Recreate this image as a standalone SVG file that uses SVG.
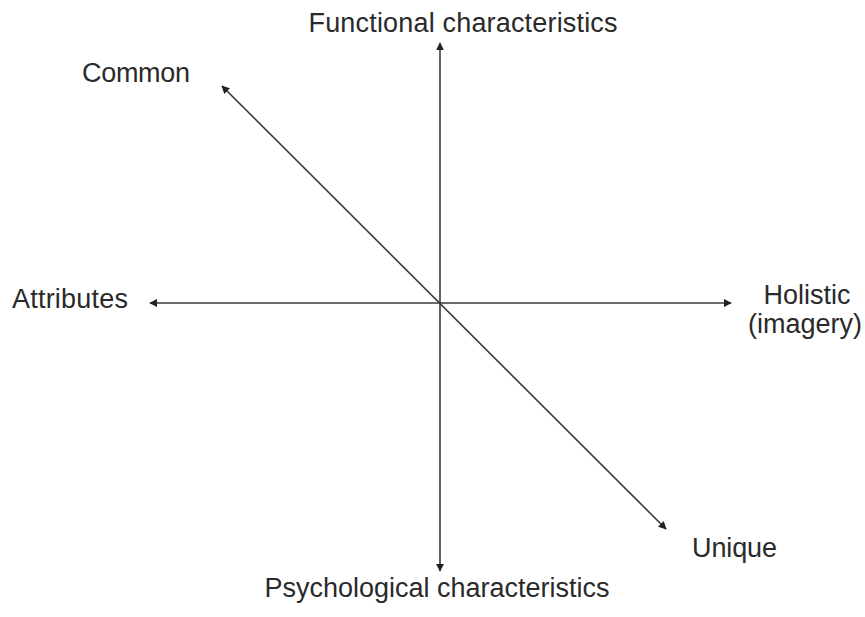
<svg xmlns="http://www.w3.org/2000/svg" width="865" height="617" viewBox="0 0 865 617">
<style>
text{font-family:"Liberation Sans",Arial,sans-serif;font-size:27px;fill:#2a2a2a}
.ax{stroke:#3a3a3a;stroke-width:1.6;fill:none}
</style>
<defs>
<marker id="ah" viewBox="0 0 10 10" refX="9" refY="5" markerWidth="8" markerHeight="8" markerUnits="userSpaceOnUse" orient="auto-start-reverse"><path d="M0,0 L10,5 L0,10 z" fill="#222"/></marker>
</defs>
<rect width="865" height="617" fill="#fff"/>
<g id="connectors">
<line class="ax" x1="440" y1="43" x2="440" y2="571" marker-start="url(#ah)" marker-end="url(#ah)"/>
<line class="ax" x1="150" y1="303" x2="731" y2="303" marker-start="url(#ah)" marker-end="url(#ah)"/>
<line class="ax" x1="222" y1="86" x2="666" y2="529" marker-start="url(#ah)" marker-end="url(#ah)"/>
</g>
<g id="functional"><text x="463" y="32" text-anchor="middle" textLength="309">Functional characteristics</text></g>
<g id="common"><text x="82" y="82" textLength="108">Common</text></g>
<g id="attributes"><text x="12" y="308" textLength="116">Attributes</text></g>
<g id="holistic"><text x="807" y="304" text-anchor="middle">Holistic</text><text x="805" y="333" text-anchor="middle">(imagery)</text></g>
<g id="unique"><text x="692" y="557" textLength="85">Unique</text></g>
<g id="psychological"><text x="437" y="597" text-anchor="middle" textLength="345">Psychological characteristics</text></g>
</svg>
